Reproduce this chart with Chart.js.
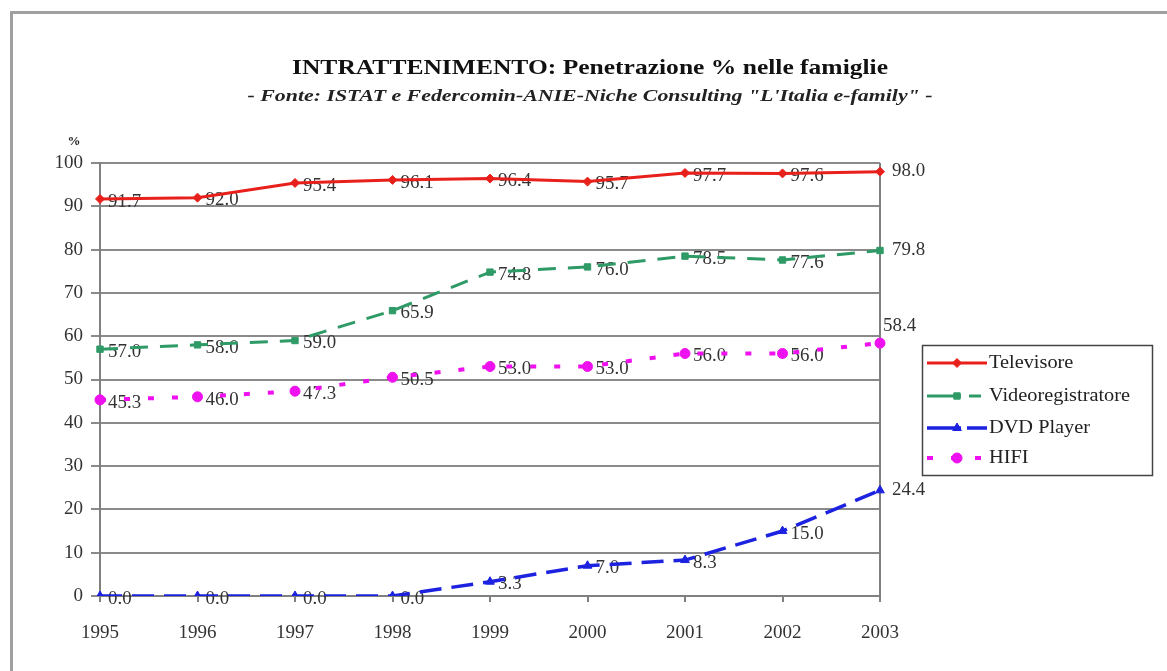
<!DOCTYPE html>
<html>
<head>
<meta charset="utf-8">
<script src="https://cdn.jsdelivr.net/npm/chart.js@4.4.1/dist/chart.umd.min.js"></script>
<style>
html,body{margin:0;padding:0;background:#fff;}
#wrap{width:1167px;height:671px;position:relative;}
</style>
</head>
<body>
<div id="wrap"><canvas id="c" width="1167" height="671"></canvas></div>
<script>
const years = ['1995','1996','1997','1998','1999','2000','2001','2002','2003'];
const televisore = [91.7, 92.0, 95.4, 96.1, 96.4, 95.7, 97.7, 97.6, 98.0];
const videoregistratore = [57.0, 58.0, 59.0, 65.9, 74.8, 76.0, 78.5, 77.6, 79.8];
const dvdPlayer = [0.0, 0.0, 0.0, 0.0, 3.3, 7.0, 8.3, 15.0, 24.4];
const hifi = [45.3, 46.0, 47.3, 50.5, 53.0, 53.0, 56.0, 56.0, 58.4];
const yTicks = [0,10,20,30,40,50,60,70,80,90,100];
const titleText = 'INTRATTENIMENTO: Penetrazione % nelle famiglie';
const subtitleText = '- Fonte: ISTAT e Federcomin-ANIE-Niche Consulting "L\'Italia e-family" -';
const seriesNames = ['Televisore','Videoregistratore','DVD Player','HIFI'];

const SERIF = '"Liberation Serif", "DejaVu Serif", serif';

function stretchText(ctx, text, x, y, font, sx, align, color) {
  ctx.save();
  ctx.font = font;
  ctx.fillStyle = color || '#111';
  ctx.textBaseline = 'middle';
  const w = ctx.measureText(text).width * sx;
  let left = x;
  if (align === 'center') left = x - w / 2;
  else if (align === 'right') left = x - w;
  ctx.translate(left, y);
  ctx.scale(sx, 1);
  ctx.textAlign = 'left';
  ctx.fillText(text, 0, 0);
  ctx.restore();
}
function fitText(ctx, text, cx, y, font, targetW, color) {
  ctx.save();
  ctx.font = font;
  const sx = targetW / ctx.measureText(text).width;
  ctx.restore();
  stretchText(ctx, text, cx, y, font, sx, 'center', color);
}

const decorPlugin = {
  id: 'decor',
  beforeDraw(chart) {
    const ctx = chart.ctx;
    ctx.save();
    ctx.fillStyle = '#fff';
    ctx.fillRect(0, 0, chart.width, chart.height);
    ctx.strokeStyle = '#a0a0a0';
    ctx.lineWidth = 3;
    ctx.beginPath();
    ctx.moveTo(11.5, chart.height);
    ctx.lineTo(11.5, 12.5);
    ctx.lineTo(chart.width, 12.5);
    ctx.stroke();
    ctx.restore();
  },
  beforeDatasetsDraw(chart) {
    const ctx = chart.ctx;
    const area = chart.chartArea;
    ctx.save();
    ctx.strokeStyle = '#808080';
    ctx.lineWidth = 2;
    ctx.beginPath();
    ctx.moveTo(area.right, area.top);
    ctx.lineTo(area.right, area.bottom);
    ctx.stroke();
    ctx.restore();
    // data labels (drawn beneath the lines, as in the original)
    const n = years.length;
    chart.data.datasets.forEach((ds, di) => {
      const meta = chart.getDatasetMeta(di);
      meta.data.forEach((pt, i) => {
        const v = ds.data[i];
        let dx = 8, dy = 3;
        if (i === n - 1) { dx = 12; dy = 0; }
        if (di === 3 && i === n - 1) { dx = 3; dy = -17; }
        stretchText(ctx, v.toFixed(1), pt.x + dx, pt.y + dy, '18px ' + SERIF, 1.05, 'left', '#333');
      });
    });
  },
  afterDraw(chart) {
    const ctx = chart.ctx;
    fitText(ctx, titleText, 590, 68, 'bold 22px ' + SERIF, 596, '#111');
    fitText(ctx, subtitleText, 590, 97, 'italic bold 16px ' + SERIF, 685, '#222');
    stretchText(ctx, '%', 74, 142, 'bold 13px ' + SERIF, 1.0, 'center', '#222');

    // legend
    const lx = 922, ly = 345, lw = 230, lh = 130;
    ctx.save();
    ctx.fillStyle = '#fff';
    ctx.fillRect(lx, ly, lw, lh);
    ctx.strokeStyle = '#444';
    ctx.lineWidth = 1.5;
    ctx.strokeRect(lx + 0.5, ly + 0.5, lw, lh);
    ctx.restore();
    const rowsY = [363, 396, 428, 458];
    chart.data.datasets.forEach((ds, di) => {
      const y = rowsY[di];
      ctx.save();
      ctx.strokeStyle = ds.borderColor;
      ctx.lineWidth = ds.borderWidth;
      ctx.setLineDash(ds.legendDash || ds.borderDash || []);
      ctx.beginPath();
      ctx.moveTo(927, y);
      ctx.lineTo(987, y);
      ctx.stroke();
      ctx.setLineDash([]);
      ctx.fillStyle = ds.borderColor;
      ctx.lineWidth = 1;
      Chart.helpers.drawPoint(ctx, {
        pointStyle: ds.pointStyle, radius: ds.pointRadius, borderWidth: 1, rotation: 0
      }, 957, y);
      ctx.restore();
      stretchText(ctx, ds.label, 989, y, '19px ' + SERIF, 1.07, 'left', '#222');
    });
  }
};

const datasets = [
  { label: seriesNames[0], data: televisore, borderColor: '#e8201c',
    borderWidth: 3, borderDash: [], pointStyle: 'rectRot', pointRadius: 4.5 },
  { label: seriesNames[1], data: videoregistratore, borderColor: '#2e9a66',
    borderWidth: 3, borderDash: [18, 12], legendDash: [34, 8, 12, 100], pointStyle: 'rect', pointRadius: 4.5 },
  { label: seriesNames[2], data: dvdPlayer, borderColor: '#1c22e0',
    borderWidth: 3.5, borderDash: [22, 10], legendDash: [34, 6, 40, 100], pointStyle: 'triangle', pointRadius: 5 },
  { label: seriesNames[3], data: hifi, borderColor: '#ee10ee',
    borderWidth: 4, borderDash: [6, 18], legendDash: [6, 18, 10, 14, 6, 100], pointStyle: 'circle', pointRadius: 5 }
].map(d => Object.assign({
  tension: 0, fill: false, backgroundColor: d.borderColor, pointBorderColor: d.borderColor,
  pointBackgroundColor: d.borderColor, pointBorderWidth: 1, pointHoverRadius: d.pointRadius
}, d));

const chart = new Chart(document.getElementById('c'), {
  type: 'line',
  data: { labels: years, datasets: datasets },
  options: {
    responsive: false,
    animation: false,
    devicePixelRatio: 1,
    layout: { padding: { top: 163, right: 287, left: 0, bottom: 0 } },
    plugins: {
      legend: { display: false },
      title: { display: false },
      tooltip: { enabled: false }
    },
    scales: {
      x: {
        offset: false,
        grid: { display: true, drawOnChartArea: false, drawTicks: true, tickLength: 6, color: '#808080', lineWidth: 2 },
        border: { display: true, color: '#808080', width: 2 },
        ticks: { font: { family: SERIF, size: 19 }, color: '#333', padding: 20, maxRotation: 0, autoSkip: false },
        afterFit(scale) { scale.height = 75; }
      },
      y: {
        min: 0, max: 100,
        afterBuildTicks(scale) { scale.ticks = yTicks.map(v => ({ value: v })); },
        grid: { color: '#8a8a8a', lineWidth: 2, tickLength: 9 },
        border: { display: true, color: '#808080', width: 2 },
        ticks: { font: { family: SERIF, size: 19 }, color: '#333', padding: 8 },
        afterFit(scale) { scale.width = 100; }
      }
    }
  },
  plugins: [decorPlugin]
});
</script>
</body>
</html>
